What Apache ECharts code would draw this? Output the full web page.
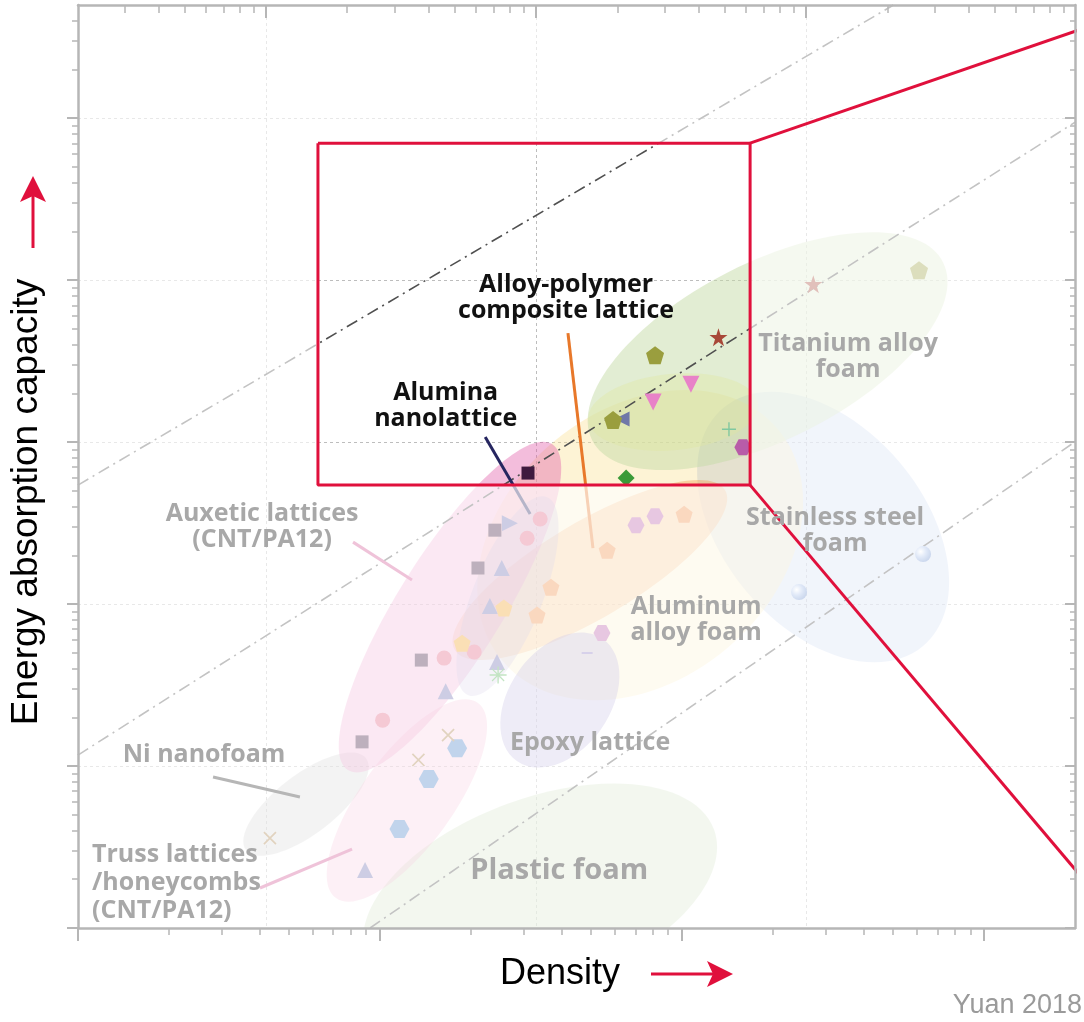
<!DOCTYPE html>
<html><head><meta charset="utf-8">
<script src="https://cdn.jsdelivr.net/npm/echarts@6/dist/echarts.min.js"></script>
<style>html,body{margin:0;padding:0;background:#fff}#c{width:1084px;height:1022px}</style>
</head><body><div id="c"></div>
<script>
// ---------------- axis ranges & ticks (log scales) ----------------
const densityRange = [1, 2000];          // bottom axis
const topRange = [0.2014, 991];          // top axis (gridlines)
const energyRange = [1, 5e5];            // left / right axis
const xMajorTicks = [1, 10, 100, 1000];
const xMinorTicks = [2,3,4,5,6,7,8,9,20,30,40,50,60,70,80,90,200,300,400,500,600,700,800,900];
const topMajorTicks = [1, 10, 100];
const topMinorTicks = [0.3,0.4,0.5,0.6,0.7,0.8,0.9,2,3,4,5,6,7,8,9,20,30,40,50,60,70,80,90,200,300,400,500,600,700,800,900];
const yMajorTicks = [1, 10, 100, 1000, 10000, 100000];
const yMinorTicks = [2,3,4,5,6,7,8,9,20,30,40,50,60,70,80,90,200,300,400,500,600,700,800,900,
  2000,3000,4000,5000,6000,7000,8000,9000,20000,30000,40000,50000,60000,70000,80000,90000,
  200000,300000,400000];

// ---------------- material regions (ellipses): major-axis ends a,b and a point c on minor edge ----------------
const regions = [
  {name:'Plastic foam',          a:[9.0,0.668],  b:[127.6,4.05],  c:[26.4,5.85]},
  {name:'Stainless steel foam',  a:[136.8,1622], b:[628,55.1],    c:[163.3,119.7]},
  {name:'Aluminum alloy foam',   a:[25.4,44.7],  b:[208,1197],    c:[140.6,53.2]},
  {name:'Titanium alloy foam',   a:[50.4,1028],  b:[731,12910],   c:[142,11190]},
  {name:'Titanium alloy (low)',  a:[48.9,1368],  b:[178.6,1718],  c:[90.8,2630]},
  {name:'Aluminum alloy band',   a:[17.7,52.0],  b:[138.7,505.8], c:[59.7,90.2]},
  {name:'Epoxy lattice',         a:[28.4,10.74], b:[54.7,60.8],   c:[53.95,16.9]},
  {name:'Ni nanofoam',           a:[3.60,3.03],  b:[8.99,11.19],  c:[6.53,4.16]},
  {name:'Truss lattices',        a:[7.15,1.53],  b:[21.1,24.5],   c:[16.3,4.17]},
  {name:'Auxetic lattices',      a:[7.83,9.44],  b:[37.1,972],    c:[23.9,64.7]},
  {name:'Auxetic core',          a:[19.6,27.4],  b:[35.7,457],    c:[33.9,93.1]}
];

// ---------------- markers ----------------
const squares        = [[30.9,644],[24.0,286],[21.1,167],[13.7,45.1],[8.72,14.1]];
const pinkCircles    = [[33.9,335],[30.7,255],[20.5,50.6],[16.3,46.4],[10.2,19.2]];
const upTriangles    = [[25.3,167],[23.1,97.2],[24.4,43.9],[16.5,29.0],[8.92,2.28]];
const rightTriangles = [[26.9,316]];
const leftTriangles  = [[63.3,1387]];
const downTriangles  = [[80.2,1766],[107,2280]];
const olivePentagons = [[59.1,1368],[81.4,3444],[609,11530]];
const orangePentagons= [[56.5,215],[101.6,359],[36.8,127],[33.1,85.5]];
const amberPentagons = [[25.7,94.5],[18.7,57.4]];
const stars          = [[132,4446],[272,9441]];
const magentaHexagons= [[159,931],[70.4,307],[81.4,349],[54.3,66.2]];
const blueHexagons   = [[18.0,12.9],[14.5,8.31],[11.6,4.08]];
const diamonds       = [[65.3,600]];
const plusMarks      = [[143,1202]];
const crossMarks     = [[16.8,15.5],[13.4,10.9],[4.32,3.59]];
const asteriskMarks  = [[24.6,36.5]];
const spheres        = [[628,203.7],[244,118.6]];
const dashMarks      = [[48.5,49.9]];

// ---------------- guide lines (constant specific energy) ----------------
const guideLineA = [[1,543],[499.7,498300]];
const guideLineB = [[1,11.69],[2001,94470]];
const guideLineC = [[9.27,1],[1971,985.8]];

// ---------------- highlight box & callouts ----------------
const zoomBox = [[6.23,70110],[168,542.8]];       // top-left, bottom-right
const calloutTop = [[168,70110],[2143,359400]];
const calloutBottom = [[168,542.8],[2143,1.979]];

// ---------------- label pointers ----------------
const pointerAlloy   = [[41.9,4708],[50.7,221.7]];
const pointerAlumina = [[22.3,1074],[31.4,359.4]];
const pointerAuxetic = [[8.14,241.3],[12.76,140.7]];
const pointerNi      = [[2.80,8.55],[5.43,6.44]];
const pointerTruss   = [[4.005,1.766],[8.08,3.074]];

// ---------------- labels ----------------
const labels = [
  {text:'Alloy-polymer\ncomposite lattice', at:[41.3,7743], kind:'focus'},
  {text:'Alumina\nnanolattice', at:[16.5,1668], kind:'focus'},
  {text:'Titanium alloy\nfoam', at:[354.5,3347], kind:'region'},
  {text:'Stainless steel\nfoam', at:[321.1,282.2], kind:'region'},
  {text:'Aluminum\nalloy foam', at:[111.3,79.6], kind:'region'},
  {text:'Epoxy lattice', at:[49.6,13.87], kind:'region'},
  {text:'Plastic foam', at:[39.2,2.248], kind:'large'},
  {text:'Auxetic lattices\n(CNT/PA12)', at:[4.07,298.7], kind:'region'},
  {text:'Ni nanofoam', at:[2.614,11.69], kind:'region'},
  {text:'Truss lattices\n/honeycombs\n(CNT/PA12)', at:[1.113,1.896], kind:'left'}
];

// ================= styling =================
const AX = '#b6b6b6';
const RED = '#e0103c';
const FONT_B = '"Open Sans", "Noto Sans", sans-serif';
const regionFills = ['#9cc080','#8ca8e0','#fbe39a','#c5dba8','#dfe8a0','#f09040','#8070c0','#a0a0a0','#e878a8','#e25aa8','#9a8fc8'];
const regionOpacity = [0.36,0.36,0.42,0.5,0.38,0.36,0.4,0.36,0.32,0.4,0.3];
const labelKinds = {
  focus:  {color:'#111111', font:'bold 25px ' + FONT_B, align:'center', lh:26},
  region: {color:'#a8a8a8', font:'bold 25px ' + FONT_B, align:'center', lh:26},
  large:  {color:'#a8a8a8', font:'bold 29px ' + FONT_B, align:'center', lh:30},
  left:   {color:'#a8a8a8', font:'bold 25px ' + FONT_B, align:'left', lh:28}
};
const P_PENT = 'path://M50,0 L97.6,34.5 L79.4,90.5 L20.6,90.5 L2.4,34.5 Z';
const P_HEX  = 'path://M25,0 L75,0 L100,43.3 L75,86.6 L25,86.6 L0,43.3 Z';
const P_STAR = 'path://M50,0 L61.2,34.5 L97.6,34.5 L68.2,55.9 L79.4,90.5 L50,69.1 L20.6,90.5 L31.8,55.9 L2.4,34.5 L38.8,34.5 Z';
const P_PLUS = 'path://M0,45 L100,45 L100,55 L0,55 Z M45,0 L55,0 L55,100 L45,100 Z';
const P_AST  = 'path://M0,46 L100,46 L100,54 L0,54 Z M46,0 L54,0 L54,100 L46,100 Z M12,17 L17,12 L88,83 L83,88 Z M83,12 L88,17 L17,88 L12,83 Z';

function sc(data, symbol, size, color, extra) {
  return Object.assign({type:'scatter', data:data, symbol:symbol, symbolSize:size,
    itemStyle:{color:color, opacity:1}, z:3, silent:true}, extra || {});
}
function ln(data, color, width, type, z, extra) {
  return Object.assign({type:'line', data:data, symbol:'none', silent:true, z:z,
    lineStyle:{color:color, width:width, type:type}}, extra || {});
}
function logAxis(range, pos, opts) {
  return Object.assign({type:'log', min:range[0], max:range[1], position:pos,
    axisLine:{show:false, onZero:false}, axisTick:{show:false}, axisLabel:{show:false},
    splitLine:{show:false}, z:8}, opts);
}
const axLine = {show:true, onZero:false, lineStyle:{color:AX, width:2.5}};

const chart = echarts.init(document.getElementById('c'), null, {renderer:'canvas'});
chart.setOption({
  animation:false,
  backgroundColor:'#ffffff',
  grid:{left:78, right:9, top:5, bottom:94},
  xAxis:[
    logAxis(densityRange,'bottom',{axisLine:axLine, axisTick:{show:true, customValues:xMajorTicks, length:13, lineStyle:{color:AX,width:2}}}),
    logAxis(densityRange,'bottom',{axisTick:{show:true, customValues:xMinorTicks, length:7, lineStyle:{color:AX,width:1.5}}}),
    logAxis(topRange,'top',{axisLine:axLine, axisTick:{show:true, inside:true, customValues:topMajorTicks, length:13, lineStyle:{color:AX,width:2}}}),
    logAxis(topRange,'top',{axisTick:{show:true, inside:true, customValues:topMinorTicks, length:8, lineStyle:{color:AX,width:1.5}}}),
    logAxis(topRange,'top',{z:0, splitLine:{show:true, showMinLine:false, showMaxLine:false, lineStyle:{color:'#bdbdbd', width:1, type:[3,3]}}})
  ],
  yAxis:[
    logAxis(energyRange,'left',{axisLine:axLine, axisTick:{show:true, customValues:yMajorTicks, length:11, lineStyle:{color:AX,width:2}}}),
    logAxis(energyRange,'left',{axisTick:{show:true, customValues:yMinorTicks, length:6, lineStyle:{color:AX,width:1.5}}}),
    logAxis(energyRange,'right',{axisLine:axLine, axisTick:{show:true, inside:true, customValues:yMajorTicks, length:10, lineStyle:{color:AX,width:2}}}),
    logAxis(energyRange,'right',{axisTick:{show:true, inside:true, customValues:yMinorTicks, length:5, lineStyle:{color:AX,width:1.5}}}),
    logAxis(energyRange,'left',{z:0, splitLine:{show:true, showMinLine:false, showMaxLine:false, lineStyle:{color:'#bdbdbd', width:1, type:[3,3]}}})
  ],
  series:[
    {type:'custom', z:1, clip:true, silent:true,
     data: regions.map(r => [r.a[0], r.a[1], r.b[0], r.b[1], r.c[0], r.c[1]]),
     renderItem:function(params, api){
       const a = api.coord([api.value(0), api.value(1)]);
       const b = api.coord([api.value(2), api.value(3)]);
       const c = api.coord([api.value(4), api.value(5)]);
       const mx = (a[0]+b[0])/2, my = (a[1]+b[1])/2;
       const dx = b[0]-a[0], dy = b[1]-a[1];
       const rx = Math.sqrt(dx*dx+dy*dy)/2;
       const ang = Math.atan2(dy, dx);
       const ry = Math.abs((c[0]-mx)*(-Math.sin(ang)) + (c[1]-my)*Math.cos(ang));
       return {type:'ellipse', x:mx, y:my, rotation:-ang, shape:{cx:0, cy:0, rx:rx, ry:ry},
         style:{fill:regionFills[params.dataIndex], opacity:regionOpacity[params.dataIndex]}};
     }},
    ln(guideLineA, '#505050', 1.6, [12,5,2,5], 2),
    ln(guideLineB, '#505050', 1.6, [12,5,2,5], 2),
    ln(guideLineC, '#505050', 1.6, [12,5,2,5], 2),
    ln(pointerAlloy, '#e8782a', 3, 'solid', 3),
    ln(pointerAlumina, '#262660', 3, 'solid', 3),
    ln(pointerAuxetic, '#d05090', 3, 'solid', 3),
    ln(pointerNi, '#2a2a2a', 3, 'solid', 3),
    ln(pointerTruss, '#d05090', 3, 'solid', 3),
    sc(squares, 'rect', 13, '#3e1a3e'),
    sc(pinkCircles, 'circle', 15, '#e06080'),
    sc(upTriangles, 'triangle', 16, '#6d6db0'),
    sc(rightTriangles, 'triangle', 16, '#6d6db0', {symbolRotate:-90}),
    sc(leftTriangles, 'triangle', 15, '#7078a8', {symbolRotate:90}),
    sc(downTriangles, 'triangle', 17, '#e882c8', {symbolRotate:180}),
    sc(olivePentagons, P_PENT, 18, '#9a9e3e'),
    sc(orangePentagons, P_PENT, 17, '#f08c45'),
    sc(amberPentagons, P_PENT, 17, '#f0a028'),
    sc(stars, P_STAR, 18, '#a84838'),
    sc(magentaHexagons, P_HEX, [17,16], '#b85ca8'),
    sc(blueHexagons, P_HEX, [20,18], '#4a80c8'),
    sc(diamonds, 'diamond', 17, '#3a9a38'),
    sc(plusMarks, P_PLUS, 14, '#80c8a0'),
    sc(crossMarks, P_PLUS, 17, '#a87e45', {symbolRotate:45}),
    sc(asteriskMarks, P_AST, 17, '#50b050'),
    sc(spheres, 'circle', 16, {type:'radial', x:0.35, y:0.35, r:0.75,
      colorStops:[{offset:0,color:'#ffffff'},{offset:0.45,color:'#a8c0ea'},{offset:1,color:'#5a80c4'}]}),
    sc(dashMarks, 'rect', [11,2], '#8a78c0'),
    {type:'custom', z:4, silent:true,
     data:[[zoomBox[0][0], zoomBox[0][1], zoomBox[1][0], zoomBox[1][1]]],
     renderItem:function(params, api){
       const tl = api.coord([api.value(0), api.value(1)]);
       const br = api.coord([api.value(2), api.value(3)]);
       const cs = params.coordSys;
       const gx = cs.x, gy = cs.y, gw = cs.width, gh = cs.height;
       const fill = 'rgba(255,255,255,0.66)';
       return {type:'group', children:[
         {type:'rect', shape:{x:gx, y:gy, width:gw, height:tl[1]-gy}, style:{fill:fill}},
         {type:'rect', shape:{x:gx, y:br[1], width:gw, height:gy+gh-br[1]}, style:{fill:fill}},
         {type:'rect', shape:{x:gx, y:tl[1], width:tl[0]-gx, height:br[1]-tl[1]}, style:{fill:fill}},
         {type:'rect', shape:{x:br[0], y:tl[1], width:gx+gw-br[0], height:br[1]-tl[1]}, style:{fill:fill}}
       ]};
     }},
    ln([zoomBox[0], [zoomBox[1][0], zoomBox[0][1]], zoomBox[1], [zoomBox[0][0], zoomBox[1][1]], zoomBox[0]], RED, 3, 'solid', 5),
    ln(calloutTop, RED, 3, 'solid', 5, {clip:false}),
    ln(calloutBottom, RED, 3, 'solid', 5, {clip:false}),
    {type:'custom', z:6, silent:true,
     data: labels.map(l => l.at),
     renderItem:function(params, api){
       const L = labels[params.dataIndex];
       const k = labelKinds[L.kind];
       const p = api.coord([api.value(0), api.value(1)]);
       return {type:'text', x:p[0], y:p[1],
         style:{text:L.text, fill:k.color, font:k.font, align:k.align, verticalAlign:'middle', lineHeight:k.lh}};
     }}
  ],
  graphic:[
    {type:'text', x:27, y:502, rotation:Math.PI/2, style:{text:'Energy absorption capacity', font:'37px "Liberation Sans", Arial, sans-serif', fill:'#000', align:'center', verticalAlign:'middle'}},
    {type:'line', shape:{x1:33, y1:248, x2:33, y2:196}, style:{stroke:RED, lineWidth:3}},
    {type:'polygon', shape:{points:[[33,176],[20,202],[33,196],[46,202]]}, style:{fill:RED}},
    {type:'text', x:560, y:974, style:{text:'Density', font:'36px "Liberation Sans", Arial, sans-serif', fill:'#000', align:'center', verticalAlign:'middle'}},
    {type:'line', shape:{x1:651, y1:974, x2:713, y2:974}, style:{stroke:RED, lineWidth:3}},
    {type:'polygon', shape:{points:[[733,974],[707,961],[713,974],[707,987]]}, style:{fill:RED}},
    {type:'text', x:1082, y:1006, style:{text:'Yuan 2018', font:'27px "Liberation Sans", Arial, sans-serif', fill:'#9a9a9a', align:'right', verticalAlign:'middle'}}
  ]
});
</script></body></html>
